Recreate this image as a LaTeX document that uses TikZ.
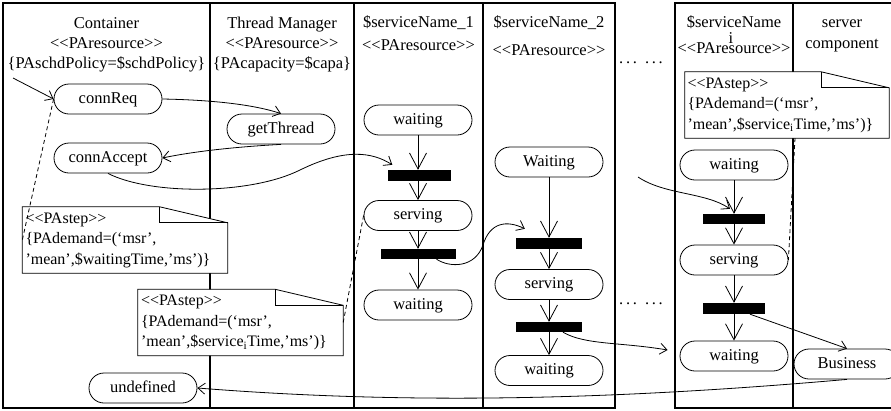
\documentclass[tikz,border=0pt]{standalone}
\usepackage{fontspec}
\setmainfont{Liberation Serif}
\usetikzlibrary{arrows.meta,shapes.misc,calc}

% stereotype brackets without guillemet ligatures
\newcommand\ster[1]{<{}<#1>{}>}
% two groups of three dots
\newcommand\dotsgap{.\kern2.7pt.\kern2.7pt.\hspace{8pt}.\kern2.7pt.\kern2.7pt.}
% UML note outline with folded corner, filled white
\newcommand\notefold[1]{%
  \draw[notel, fill=white] (#1.south west) -- (#1.north west) -- ([xshift=-68pt]#1.north east)
     -- ([yshift=-16pt]#1.north east) -- (#1.south east) -- cycle;
  \draw[notel] ([xshift=-68pt]#1.north east) -- ([xshift=-68pt,yshift=-16pt]#1.north east)
     -- ([yshift=-16pt]#1.north east);}

\begin{document}
\begin{tikzpicture}[x=1pt,y=-1pt,
  every node/.style={font=\fontsize{16.5}{20}\selectfont, inner sep=0pt},
  lane/.style={line width=1.8pt},
  head/.style={anchor=base},
  state/.style={draw, line width=0.8pt, rounded rectangle, minimum width=108pt,
    minimum height=30pt, text height=11.5pt, text depth=3.5pt},
  bar/.style={rectangle, fill=black, minimum height=11pt},
  flow/.style={line width=0.8pt, -{Straight Barb[length=7pt,width=11pt]}},
  vflow/.style={line width=0.8pt, -{Straight Barb[length=16pt,width=17pt]}},
  link/.style={line width=0.8pt, dash pattern=on 4pt off 3pt},
  notearea/.style={rectangle, minimum width=205pt, minimum height=66pt},
  notetext/.style={text width=199pt, align=left, font=\fontsize{16}{20.5}\selectfont},
  notel/.style={line width=0.8pt},
]
\useasboundingbox (0,0) rectangle (891,410);

% ---- swimlane frames
\draw[lane] (3,3) rectangle (615,408);
\draw[lane] (210,3) -- (210,408);
\draw[lane] (354,3) -- (354,408);
\draw[lane] (483,3) -- (483,408);
\draw[lane] (893,3) -- (675,3) -- (675,408) -- (893,408);
\draw[lane] (793,3) -- (793,408);

% ---- lane headers
\node[head] (hc1) at (106.5,28) {Container};
\node[head] (hc2) at (106.5,48) {\ster{PAresource}};
\node[head] (hc3) at (106.5,68) {\{PAschdPolicy=\$schdPolicy\}};
\node[head] (ht1) at (282,28) {Thread Manager};
\node[head] (ht2) at (282,48) {\ster{PAresource}};
\node[head] (ht3) at (282,68) {\{PAcapacity=\$capa\}};
\node[head] (h11) at (418.5,27) {\$serviceName\_1};
\node[head] (h12) at (418.5,50) {\ster{PAresource}};
\node[head] (h21) at (549,27) {\$serviceName\_2};
\node[head] (h22) at (549,55) {\ster{PAresource}};
\node[head] (hi1) at (734,27) {\$serviceName};
\node[head] (hii) at (731,43) {i};
\node[head] (hi2) at (734,53) {\ster{PAresource}};
\node[head] (hs1) at (842,27) {server};
\node[head] (hs2) at (842,48) {component};
\node[head] (dt1) at (641,63.5) {\dotsgap};
\node[head] (dt2) at (641,304) {\dotsgap};

% ---- states
\node[state] (cr) at (108,99) {connReq};
\node[state] (gt) at (281,129) {getThread};
\node[state] (ca) at (108,158) {connAccept};
\node[state] (ud) at (143,388) {undefined};
\node[state] (w11) at (418,120) {waiting};
\node[state] (s1) at (418,215.5) {serving};
\node[state] (w12) at (418,305) {waiting};
\node[state] (w21) at (549,162) {Waiting};
\node[state] (s2) at (549,284.5) {serving};
\node[state] (w22) at (549,370.5) {waiting};
\node[state] (wi1) at (734,165) {waiting};
\node[state] (si) at (734,260) {serving};
\node[state] (wi2) at (734,356) {waiting};
\node[state, minimum width=106pt] (bz) at (847,364) {Business};

% ---- synchronisation bars
\node[bar, minimum width=63pt] (b11) at (419,175.5) {};
\node[bar, minimum width=75pt, minimum height=10pt] (b12) at (418.5,254) {};
\node[bar, minimum width=66pt] (b21) at (549,243.5) {};
\node[bar, minimum width=66pt, minimum height=10pt] (b22) at (549,327) {};
\node[bar, minimum width=62pt, minimum height=10pt] (bi1) at (734,219) {};
\node[bar, minimum width=62pt] (bi2) at (734,308.5) {};

% ---- flows inside the service lanes
\draw[vflow] (w11.south) -- (w11.south |- b11.north);
\draw[vflow] (w11.south |- b11.south) -- (s1.north);
\draw[vflow] (s1.south) -- (s1.south |- b12.north);
\draw[vflow] (s1.south |- b12.south) -- (w12.north);
\draw[vflow] (w21.south) -- (w21.south |- b21.north);
\draw[vflow] (w21.south |- b21.south) -- (s2.north);
\draw[vflow] (s2.south) -- (s2.south |- b22.north);
\draw[vflow] (s2.south |- b22.south) -- (w22.north);
\draw[vflow] (wi1.south) -- (wi1.south |- bi1.north);
\draw[vflow] (wi1.south |- bi1.south) -- (si.north);
\draw[vflow] (si.south) -- (si.south |- bi2.north);
\draw[vflow] (si.south |- bi2.south) -- (wi2.north);

% ---- flows between lanes
\coordinate (in0) at (13,78);
\draw[flow] (in0) -- (cr.west);
\draw[flow] (cr.east) .. controls (215,100) and (255,105) .. (gt.north);
\draw[flow] (gt.south) .. controls (250,146) and (200,150) .. (ca.east);
\draw[flow] (ca.south) .. controls (150,195) and (250,195) .. (300,170)
   .. controls (345,148) and (372,152) .. ([xshift=5pt,yshift=5pt]b11.north west);
\draw[flow] ([xshift=18pt]b12.south) .. controls (450,268) and (475,268) .. (483,245)
   .. controls (490,222) and (507,220) .. ([xshift=9pt,yshift=9pt]b21.north west);
\draw[flow] ([xshift=14pt]b22.south) .. controls (585,345) and (620,342) .. ([xshift=-12pt,yshift=6pt]wi2.west);
\coordinate (fi) at (638,177);
\draw[flow] (fi) .. controls (665,195) and (705,192) .. ([xshift=-4pt,yshift=5pt]bi1.north);
\draw[flow] ([xshift=16pt]bi2.south) -- (bz.north);
\draw[flow] (bz.south) .. controls (600,401) and (400,404) .. (ud.east);

% ---- notes
\path node[notearea] (n1) at (125,240) {};
\notefold{n1}
\node[notetext] (n1t) at (n1.center) {\ster{PAstep}\\\{PAdemand=(‘msr’,\\’mean’,\$waitingTime,’ms’)\}};
\path node[notearea] (n2) at (240.5,322.5) {};
\notefold{n2}
\node[notetext] (n2t) at (n2.center) {\ster{PAstep}\\\{PAdemand=(‘msr’,\\’mean’,\$service\textsubscript{i}Time,’ms’)\}};
\path node[notearea, minimum width=204pt] (n3) at (787,105) {};
\notefold{n3}
\node[notetext] (n3t) at (n3.center) {\ster{PAstep}\\\{PAdemand=(‘msr’,\\’mean’,\$service\textsubscript{i}Time,’ms’)\}};

% ---- note attachments
\draw[link] (cr.west) -- (n1.west);
\draw[link] (s1.west) -- (n2.east);
\draw[link] ([xshift=8pt]n3.south) -- (si.east);
\end{tikzpicture}
\end{document}
